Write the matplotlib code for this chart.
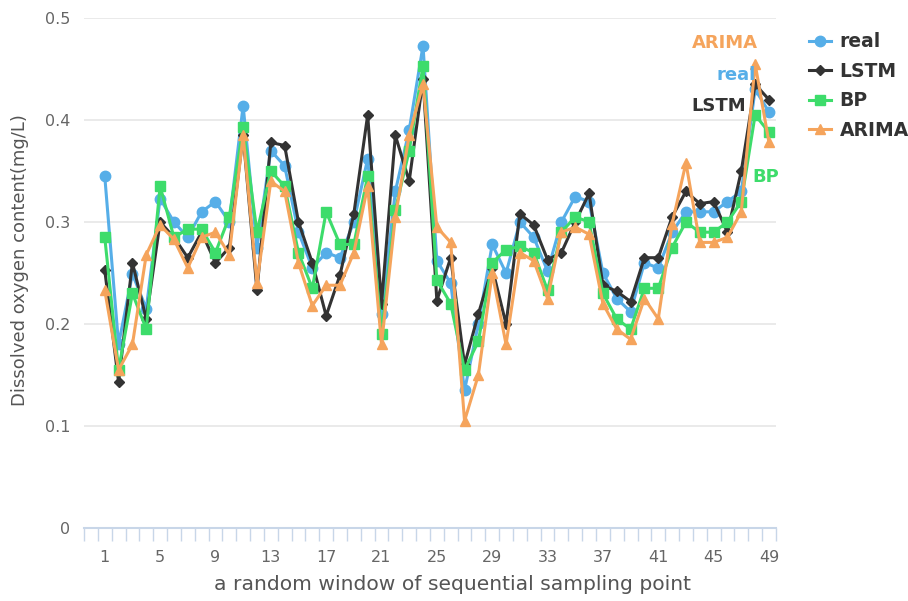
import numpy as np
import matplotlib
matplotlib.use("Agg")
import matplotlib.pyplot as plt

# Datos (ventana de 49 puntos)
points = list(range(1, 50))

real = [0.345, 0.180, 0.249, 0.215, 0.323, 0.300, 0.285, 0.310, 0.320, 0.300,
        0.414, 0.275, 0.370, 0.355, 0.290, 0.255, 0.270, 0.265, 0.300, 0.362,
        0.210, 0.330, 0.390, 0.473, 0.262, 0.240, 0.135, 0.200, 0.278, 0.250,
        0.300, 0.285, 0.252, 0.300, 0.325, 0.320, 0.250, 0.225, 0.212, 0.260,
        0.255, 0.290, 0.310, 0.310, 0.310, 0.320, 0.330, 0.430, 0.408]

lstm = [0.253, 0.143, 0.260, 0.205, 0.300, 0.285, 0.265, 0.290, 0.260, 0.275,
        0.385, 0.233, 0.378, 0.375, 0.300, 0.260, 0.208, 0.248, 0.308, 0.405,
        0.220, 0.385, 0.340, 0.440, 0.223, 0.265, 0.160, 0.210, 0.255, 0.200,
        0.308, 0.297, 0.263, 0.270, 0.300, 0.328, 0.238, 0.232, 0.222, 0.265,
        0.265, 0.305, 0.330, 0.318, 0.320, 0.290, 0.350, 0.435, 0.420]

bp = [0.285, 0.155, 0.230, 0.195, 0.335, 0.285, 0.293, 0.293, 0.270, 0.305,
      0.393, 0.290, 0.350, 0.335, 0.270, 0.235, 0.310, 0.278, 0.278, 0.345,
      0.190, 0.312, 0.370, 0.453, 0.243, 0.220, 0.155, 0.183, 0.260, 0.273,
      0.276, 0.270, 0.233, 0.290, 0.305, 0.300, 0.230, 0.205, 0.195, 0.235,
      0.235, 0.275, 0.300, 0.290, 0.290, 0.300, 0.320, 0.405, 0.388]

arima = [0.233, 0.155, 0.180, 0.268, 0.297, 0.283, 0.255, 0.285, 0.290, 0.268,
         0.385, 0.240, 0.340, 0.330, 0.260, 0.218, 0.238, 0.238, 0.270, 0.335,
         0.180, 0.305, 0.385, 0.435, 0.295, 0.280, 0.105, 0.150, 0.250, 0.180,
         0.270, 0.262, 0.225, 0.290, 0.295, 0.288, 0.220, 0.195, 0.185, 0.225,
         0.205, 0.298, 0.358, 0.280, 0.280, 0.285, 0.310, 0.455, 0.378]

x_labels = [1, 5, 9, 13, 17, 21, 25, 29, 33, 37, 41, 45, 49]
y_ticks = [0, 0.1, 0.2, 0.3, 0.4, 0.5]

series = [
    ("real",  real,  "#56aee8", "o", 7.5),
    ("LSTM",  lstm,  "#333333", "D", 5.5),
    ("BP",    bp,    "#3ddc6b", "s", 7.0),
    ("ARIMA", arima, "#f5a45c", "^", 7.5),
]

fig = plt.figure(figsize=(9.08, 6.01), dpi=100)
ax = fig.add_axes([0.0925, 0.1215, 0.762, 0.8485])

for name, vals, color, mk, ms in series:
    ax.plot(points, vals, color=color, marker=mk, markersize=ms,
            linewidth=2.2, label=name, zorder=3)

# Etiquetas al final de cada serie (desplazamiento en pixeles desde el ultimo punto)
end_offsets = {"ARIMA": (-11, 99), "real": (-13, 37), "LSTM": (-23, -6), "BP": (10, -45)}
for name, vals, color, mk, ms in series:
    dx, dy = end_offsets[name]
    ax.annotate(name, (points[-1], vals[-1]), xytext=(dx, dy),
                textcoords="offset pixels", ha="right", va="center",
                color=color, fontsize=13, fontweight="bold", zorder=5)

ax.set_xlim(-0.5, 49.5)
ax.set_ylim(0, 0.5)
ax.set_yticks(y_ticks)
ax.set_yticklabels(["0", "0.1", "0.2", "0.3", "0.4", "0.5"])
ax.set_xticks(x_labels)
ax.set_xticks(np.arange(-0.5, 50, 1), minor=True)
ax.tick_params(axis="x", which="major", length=0, pad=16, labelsize=11.5,
               colors="#666666")
ax.tick_params(axis="x", which="minor", length=9, width=1, color="#c8d6e8")
ax.tick_params(axis="y", length=0, pad=10, labelsize=11.5, colors="#666666")

ax.grid(axis="y", color="#e6e6e6", linewidth=1.2)
ax.set_axisbelow(True)
for s in ["top", "right", "left"]:
    ax.spines[s].set_visible(False)
ax.spines["bottom"].set_color("#c8d6e8")
ax.spines["bottom"].set_linewidth(1.5)

ax.set_xlabel("a random window of sequential sampling point", fontsize=14.6,
              color="#555555")
ax.xaxis.set_label_coords(0.532, -0.092)
ax.set_ylabel("Dissolved oxygen content(mg/L)", fontsize=13,
              color="#555555")
ax.yaxis.set_label_coords(-0.08, 0.525)

leg = ax.legend(loc="upper left", bbox_to_anchor=(1.023, 1.005), frameon=False,
                handlelength=1.2, handletextpad=0.45, labelspacing=0.56,
                prop={"weight": "bold", "size": 13.5})
for t in leg.get_texts():
    t.set_color("#333333")

fig.savefig("out.png", dpi=100)
